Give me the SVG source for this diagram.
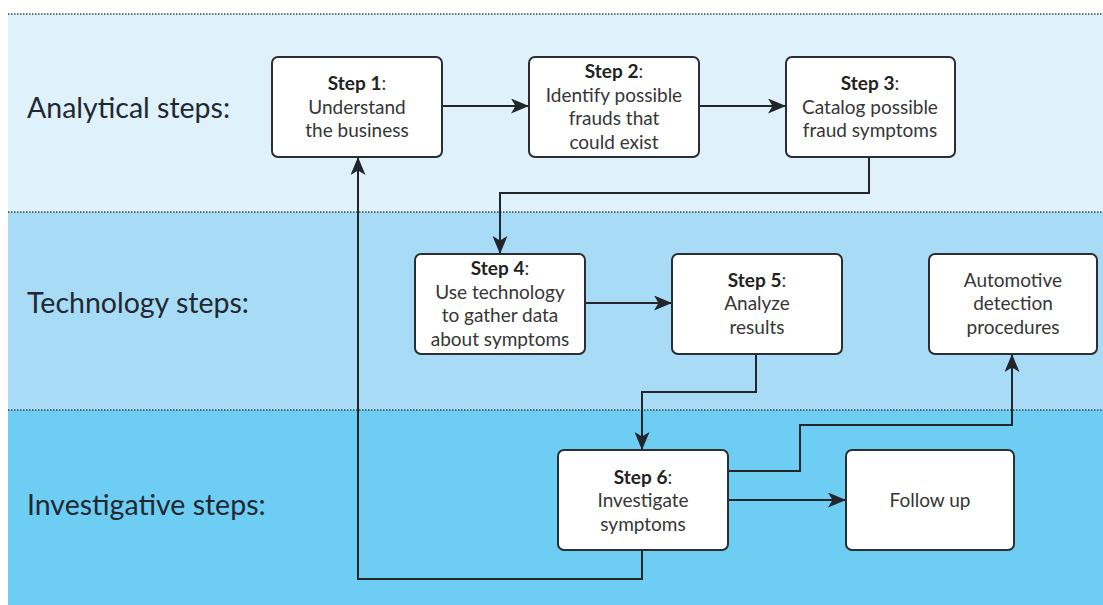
<svg xmlns="http://www.w3.org/2000/svg" width="1103" height="605" viewBox="0 0 1103 605">
  <style>
    .band-label { font-family: Lato, "Open Sans", "Liberation Sans", sans-serif; font-size: 28.5px; fill: #222831; }
    .box { fill: #ffffff; stroke: #2b2f33; stroke-width: 2; }
    .txt { font-family: Lato, "Open Sans", "Liberation Sans", sans-serif; font-size: 19px; fill: #363636; text-anchor: middle; }
    .b { font-weight: bold; fill: #222222; }
    .sep { stroke: #3a4650; stroke-width: 1.5; stroke-dasharray: 1.5 1.5; fill: none; }
    .conn { fill: none; stroke: #22262a; stroke-width: 2; marker-end: url(#arrow); }
  </style>
  <defs>
    <marker id="arrow" markerUnits="userSpaceOnUse" markerWidth="18" markerHeight="15" refX="18" refY="7.5" orient="auto">
      <path d="M0,0 L18,7.5 L0,15 L4.5,7.5 Z" fill="#22262a"/>
    </marker>
  </defs>

  <!-- swimlane backgrounds -->
  <rect x="0" y="0" width="1103" height="605" fill="#ffffff"/>
  <rect x="8" y="14" width="1095" height="198" fill="#dff1fb"/>
  <rect x="8" y="212" width="1095" height="198" fill="#a8dcf6"/>
  <rect x="8" y="410" width="1095" height="195" fill="#6dcdf3"/>
  <line class="sep" x1="8" y1="14" x2="1103" y2="14"/>
  <line class="sep" x1="8" y1="212" x2="1103" y2="212"/>
  <line class="sep" x1="8" y1="410" x2="1103" y2="410"/>

  <!-- lane titles -->
  <text class="band-label" x="27" y="118">Analytical steps:</text>
  <text class="band-label" x="27" y="313">Technology steps:</text>
  <text class="band-label" x="27" y="515">Investigative steps:</text>

  <!-- connectors -->
  <g id="connectors">
    <path class="conn" d="M442,106 H529"/>
    <path class="conn" d="M699,106 H786"/>
    <path class="conn" d="M869,157 V193 H500 V254"/>
    <path class="conn" d="M585,303 H672"/>
    <path class="conn" d="M756,354 V392 H642 V450"/>
    <path class="conn" d="M728,471 H800 V425 H1012 V354"/>
    <path class="conn" d="M728,500 H846"/>
    <path class="conn" d="M642,550 V579 H358 V157"/>
  </g>

  <g id="step1">
    <rect class="box" x="272" y="57" width="170" height="100" rx="6"/>
    <text class="txt" x="357" y="90"><tspan class="b">Step 1</tspan>:</text>
    <text class="txt" x="357" y="113.5">Understand</text>
    <text class="txt" x="357" y="137">the business</text>
  </g>

  <g id="step2">
    <rect class="box" x="529" y="57" width="170" height="100" rx="6"/>
    <text class="txt" x="614" y="78"><tspan class="b">Step 2</tspan>:</text>
    <text class="txt" x="614" y="101.5">Identify possible</text>
    <text class="txt" x="614" y="125">frauds that</text>
    <text class="txt" x="614" y="148.5">could exist</text>
  </g>

  <g id="step3">
    <rect class="box" x="786" y="57" width="169" height="100" rx="6"/>
    <text class="txt" x="870" y="90"><tspan class="b">Step 3</tspan>:</text>
    <text class="txt" x="870" y="113.5">Catalog possible</text>
    <text class="txt" x="870" y="137">fraud symptoms</text>
  </g>

  <g id="step4">
    <rect class="box" x="415" y="254" width="170" height="100" rx="6"/>
    <text class="txt" x="500" y="275"><tspan class="b">Step 4</tspan>:</text>
    <text class="txt" x="500" y="298.5">Use technology</text>
    <text class="txt" x="500" y="322">to gather data</text>
    <text class="txt" x="500" y="345.5">about symptoms</text>
  </g>

  <g id="step5">
    <rect class="box" x="672" y="254" width="170" height="100" rx="6"/>
    <text class="txt" x="757" y="286.5"><tspan class="b">Step 5</tspan>:</text>
    <text class="txt" x="757" y="310">Analyze</text>
    <text class="txt" x="757" y="333.5">results</text>
  </g>

  <g id="automotive">
    <rect class="box" x="929" y="254" width="168" height="100" rx="6"/>
    <text class="txt" x="1013" y="286.5">Automotive</text>
    <text class="txt" x="1013" y="310">detection</text>
    <text class="txt" x="1013" y="333.5">procedures</text>
  </g>

  <g id="step6">
    <rect class="box" x="558" y="450" width="170" height="100" rx="6"/>
    <text class="txt" x="643" y="483.5"><tspan class="b">Step 6</tspan>:</text>
    <text class="txt" x="643" y="507">Investigate</text>
    <text class="txt" x="643" y="530.5">symptoms</text>
  </g>

  <g id="followup">
    <rect class="box" x="846" y="450" width="168" height="100" rx="6"/>
    <text class="txt" x="930" y="506.5">Follow up</text>
  </g>
</svg>
